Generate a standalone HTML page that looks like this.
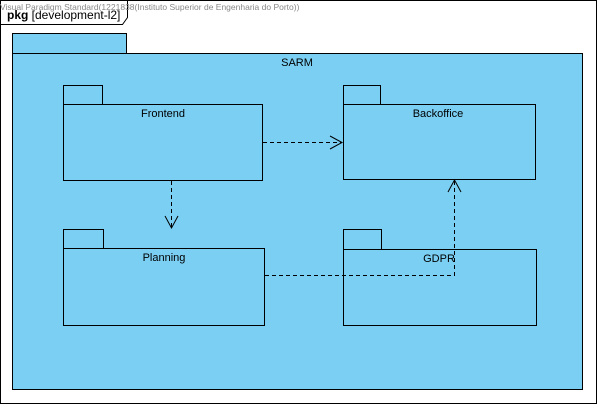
<!DOCTYPE html>
<html><head><meta charset="utf-8"><style>
html,body{margin:0;padding:0;background:#fff;width:597px;height:404px;overflow:hidden}
svg text{font-family:"Liberation Sans",sans-serif}
</style></head><body>
<svg width="597" height="404" viewBox="0 0 597 404" xmlns="http://www.w3.org/2000/svg">
<rect x="0.5" y="0.5" width="596" height="403" fill="#fff" stroke="#000"/>
<path d="M0.5 24.5 H122.5 L127.5 17.5 V0.5" fill="none" stroke="#000"/>
<text x="0" y="10" font-size="8.5" fill="#888">Visual Paradigm Standard(1221838(Instituto Superior de Engenharia do Porto))</text>
<text x="7" y="19" font-size="12" fill="#000"><tspan font-weight="bold">pkg</tspan>  [development-l2]</text>
<g fill="#7acff3" stroke="#000">
<rect x="12.5" y="33.5" width="114" height="20"/>
<rect x="12.5" y="53.5" width="570" height="336"/>
<rect x="63.5" y="85.5" width="39" height="19"/>
<rect x="63.5" y="104.5" width="199" height="76"/>
<rect x="343.5" y="85.5" width="37" height="19"/>
<rect x="343.5" y="104.5" width="192" height="75"/>
<rect x="63.5" y="229.5" width="40" height="19"/>
<rect x="63.5" y="248.5" width="201" height="77"/>
<rect x="343.5" y="229.5" width="38" height="20"/>
<rect x="343.5" y="249.5" width="193" height="76"/>
</g>
<g font-size="11" fill="#000" text-anchor="middle">
<text x="297" y="66">SARM</text>
<text x="163" y="117">Frontend</text>
<text x="438" y="117">Backoffice</text>
<text x="164" y="261">Planning</text>
<text x="439" y="262">GDPR</text>
</g>
<g fill="none" stroke="#000" stroke-dasharray="4,3">
<path d="M263 142.5 H341"/>
<path d="M171.5 181 V227"/>
<path d="M265 275.5 H454.5 V181"/>
</g>
<g fill="none" stroke="#000">
<path d="M330 136 L342 142.5 L330 149"/>
<path d="M165 216 L171.5 228 L178 216"/>
<path d="M448 192 L454.5 180 L461 192"/>
</g>
</svg>
</body></html>
